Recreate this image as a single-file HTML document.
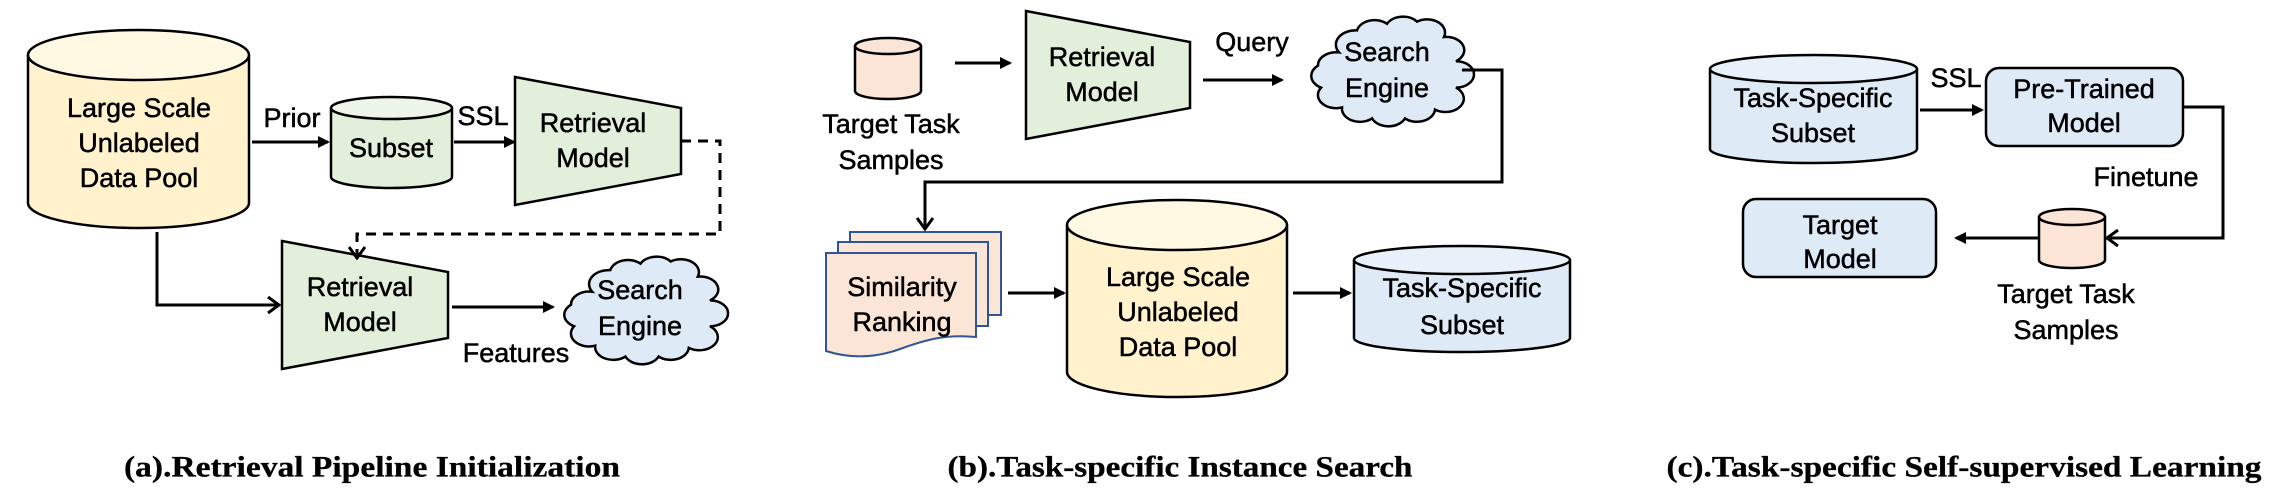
<!DOCTYPE html>
<html><head><meta charset="utf-8"><style>
html,body{margin:0;padding:0;background:#fff;}
svg{display:block;}
text{font-family:"Liberation Sans",sans-serif;font-size:27px;fill:#000;stroke:#000;stroke-width:0.5;text-anchor:middle;dominant-baseline:central;}
.cap{font-family:"Liberation Serif",serif;font-weight:bold;font-size:30px;stroke-width:0.3;}
</style></head><body>
<svg width="2272" height="494" viewBox="0 0 2272 494" xmlns="http://www.w3.org/2000/svg">
<defs>
<marker id="fa" markerWidth="12" markerHeight="12" refX="10" refY="6" orient="auto" markerUnits="userSpaceOnUse">
<path d="M0,0 L12,6 L0,12 Z" fill="#000"/></marker>
<marker id="oa" markerWidth="14" markerHeight="18" refX="12" refY="9" orient="auto" markerUnits="userSpaceOnUse">
<path d="M1,1 L12,9 L1,17" fill="none" stroke="#000" stroke-width="3"/></marker>
<path id="cloud" vector-effect="non-scaling-stroke" d="M18,34 A13,13 0 0 1 30,14 A12,12 0 0 1 50,8 A12,12 0 0 1 70,6 A12,12 0 0 1 88,20 A12,12 0 0 1 96,42 A12,12 0 0 1 96,66 A12,12 0 0 1 82,86 A12,12 0 0 1 62,94 A12,12 0 0 1 40,94 A12,12 0 0 1 20,84 A12,12 0 0 1 6,66 A12,12 0 0 1 4,46 A12,12 0 0 1 18,34 Z" fill="#DEEBF7"/>
</defs>
<g stroke="#000" stroke-width="2.5">
<!-- Panel a -->
<path d="M28,55 V203 A110.5,25 0 0 0 249,203 V55" fill="#FFF2CC"/>
<ellipse cx="138.5" cy="55" rx="110.5" ry="25" fill="#FFF8E3"/>
<path d="M331,108 V177 A60.5,11 0 0 0 452,177 V108" fill="#E2EFDA"/>
<ellipse cx="391.5" cy="108" rx="60.5" ry="11" fill="#EDF5E8"/>
<polygon points="515,77 681,108 681,174 515,205" fill="#E2EFDA"/>
<polygon points="282,241 448,272 448,338 282,369" fill="#E2EFDA"/>
<g transform="translate(565,255) scale(1.51,1.08)"><use href="#cloud"/></g>
<g fill="none" stroke-width="3">
<line x1="252" y1="142" x2="328" y2="142" marker-end="url(#fa)"/>
<line x1="454" y1="142" x2="514" y2="142" marker-end="url(#fa)"/>
<path d="M681,141 H720 V234 H357 V258" stroke-dasharray="10,7" marker-end="url(#oa)"/>
<path d="M157,232 V305 H279" marker-end="url(#oa)"/>
<line x1="452" y1="307" x2="553" y2="307" marker-end="url(#fa)"/>
</g>
<!-- Panel b -->
<path d="M855,46 V91 A33,8 0 0 0 921,91 V46" fill="#FBE5D6"/>
<ellipse cx="888" cy="46" rx="33" ry="8" fill="#FBE5D6"/>
<polygon points="1026,11 1190,42 1190,108 1026,139" fill="#E2EFDA"/>
<g transform="translate(1312,15) scale(1.5,1.1)"><use href="#cloud"/></g>
<g stroke="#2F5597" fill="#FBE5D6" stroke-width="2">
<rect x="850" y="232" width="151" height="83"/>
<rect x="838" y="242" width="150" height="84"/>
<path d="M826,253 H976 V337 C945,334 925,340 900,349 C870,360 845,357 826,351 Z"/>
</g>
<path d="M1067,225 V372 A110,25 0 0 0 1287,372 V225" fill="#FFF2CC"/>
<ellipse cx="1177" cy="225" rx="110" ry="25" fill="#FFF8E3"/>
<path d="M1354,260 V338 A108,14 0 0 0 1570,338 V260" fill="#DEEBF7"/>
<ellipse cx="1462" cy="260" rx="108" ry="14" fill="#E8F1F9"/>
<g fill="none" stroke-width="3">
<line x1="955" y1="63" x2="1010" y2="63" marker-end="url(#fa)"/>
<line x1="1203" y1="80" x2="1282" y2="80" marker-end="url(#fa)"/>
<path d="M1462,70 H1502 V182 H925 V229" marker-end="url(#oa)"/>
<line x1="1008" y1="293" x2="1064" y2="293" marker-end="url(#fa)"/>
<line x1="1293" y1="293" x2="1350" y2="293" marker-end="url(#fa)"/>
</g>
<!-- Panel c -->
<path d="M1710,69 V149 A103.5,14 0 0 0 1917,149 V69" fill="#DEEBF7"/>
<ellipse cx="1813.5" cy="69" rx="103.5" ry="14" fill="#E8F1F9"/>
<rect x="1986" y="68" width="197" height="78" rx="13" fill="#DEEBF7"/>
<rect x="1743" y="199" width="193" height="78" rx="13" fill="#DEEBF7"/>
<path d="M2039,217 V260 A33,8 0 0 0 2105,260 V217" fill="#FBE5D6"/>
<ellipse cx="2072" cy="217" rx="33" ry="8" fill="#FBE5D6"/>
<g fill="none" stroke-width="3">
<line x1="1920" y1="110" x2="1982" y2="110" marker-end="url(#fa)"/>
<path d="M2183,107 H2223 V238 H2107" marker-end="url(#oa)"/>
<line x1="2039" y1="238" x2="1956" y2="238" marker-end="url(#fa)"/>
</g>
</g>
<!-- texts -->
<text x="139" y="108">Large Scale</text><text x="139" y="143">Unlabeled</text><text x="139" y="178">Data Pool</text>
<text x="292" y="118">Prior</text>
<text x="391" y="148">Subset</text>
<text x="483" y="116">SSL</text>
<text x="593" y="123">Retrieval</text><text x="593" y="158">Model</text>
<text x="360" y="287">Retrieval</text><text x="360" y="322">Model</text>
<text x="516" y="353">Features</text>
<text x="640" y="290">Search</text><text x="640" y="326">Engine</text>
<text class="cap" x="372" y="467" textLength="496" lengthAdjust="spacingAndGlyphs">(a).Retrieval Pipeline Initialization</text>

<text x="891" y="124">Target Task</text><text x="891" y="160">Samples</text>
<text x="1102" y="57">Retrieval</text><text x="1102" y="92">Model</text>
<text x="1252" y="42">Query</text>
<text x="1387" y="52">Search</text><text x="1387" y="88">Engine</text>
<text x="902" y="287">Similarity</text><text x="902" y="322">Ranking</text>
<text x="1178" y="277">Large Scale</text><text x="1178" y="312">Unlabeled</text><text x="1178" y="347">Data Pool</text>
<text x="1462" y="288">Task-Specific</text><text x="1462" y="325">Subset</text>
<text class="cap" x="1180" y="467" textLength="465" lengthAdjust="spacingAndGlyphs">(b).Task-specific Instance Search</text>

<text x="1813" y="98">Task-Specific</text><text x="1813" y="133">Subset</text>
<text x="1956" y="78">SSL</text>
<text x="2084" y="89">Pre-Trained</text><text x="2084" y="123">Model</text>
<text x="2146" y="177">Finetune</text>
<text x="1840" y="225">Target</text><text x="1840" y="259">Model</text>
<text x="2066" y="294">Target Task</text><text x="2066" y="330">Samples</text>
<text class="cap" x="1964" y="467" textLength="595" lengthAdjust="spacingAndGlyphs">(c).Task-specific Self-supervised Learning</text>
</svg>
</body></html>
